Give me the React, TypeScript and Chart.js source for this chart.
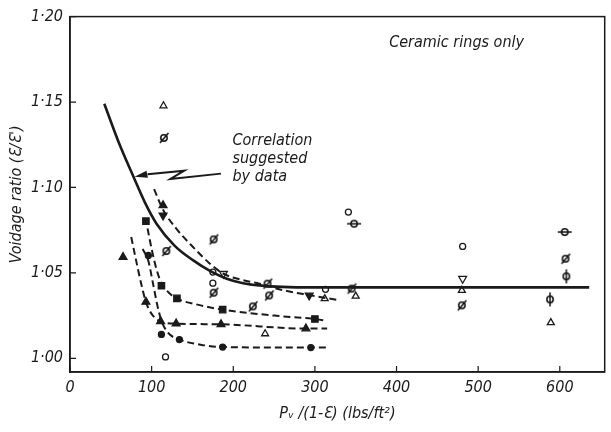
import React, { useEffect, useRef } from "react";
import { Chart, registerables } from "chart.js";

Chart.register(...registerables);

// ---- axis ticks ----
const xTicks = [0, 100, 200, 300, 400, 500, 600];
const yTicks = [1.0, 1.05, 1.1, 1.15, 1.2];

// ---- correlation (solid) curve ----
const corrX = [42, 60, 78, 92, 106, 128, 151, 172, 192, 212, 232, 260, 300, 636];
const corrY = [1.149, 1.126, 1.106, 1.091, 1.0788, 1.066, 1.0573, 1.051, 1.0466, 1.044, 1.0427, 1.0418, 1.0415, 1.0415];

// ---- dashed fitted curves ----
const dashInvX = [103, 114, 130, 151, 170, 188, 210, 232, 260, 293, 330];
const dashInvY = [1.099, 1.087, 1.076, 1.065, 1.056, 1.0495, 1.046, 1.0437, 1.04, 1.037, 1.034];

const dashSqX = [95, 100, 106, 112, 122, 131, 160, 187, 250, 300, 315];
const dashSqY = [1.076, 1.064, 1.052, 1.044, 1.038, 1.035, 1.031, 1.0285, 1.025, 1.023, 1.022];

const dashTriX = [75, 82, 88, 93, 100, 111, 130, 185, 289, 315];
const dashTriY = [1.071, 1.055, 1.042, 1.033, 1.026, 1.0216, 1.0203, 1.0199, 1.0174, 1.0175];

const dashCirX = [89, 96, 102, 107, 112, 120, 134, 160, 187, 295, 315];
const dashCirY = [1.064, 1.057, 1.043, 1.031, 1.022, 1.015, 1.011, 1.008, 1.0066, 1.0063, 1.0063];

// ---- measured points ----
const openCircleX = [175, 175, 117, 313, 341, 481];
const openCircleY = [1.0505, 1.044, 1.0008, 1.0404, 1.0856, 1.0655];

const solidCircleX = [96, 112, 134, 187, 295];
const solidCircleY = [1.0602, 1.014, 1.011, 1.0066, 1.0063];

const openTriX = [114.5, 239, 312, 350, 480, 589];
const openTriY = [1.1478, 1.0144, 1.0349, 1.0364, 1.0398, 1.0209];

const solidTriX = [114, 65, 93, 111, 130, 185, 289];
const solidTriY = [1.0895, 1.0593, 1.033, 1.0216, 1.0203, 1.0199, 1.0174];

const openInvX = [188, 481];
const openInvY = [1.0495, 1.0466];

const solidInvX = [114, 293];
const solidInvY = [1.0836, 1.0368];

const solidSqX = [93, 112, 131, 187, 300];
const solidSqY = [1.0803, 1.0425, 1.0351, 1.0285, 1.023];

const slashX = [115, 176, 118, 176, 242, 244, 224, 345, 480, 607];
const slashY = [1.129, 1.0696, 1.0628, 1.0384, 1.0437, 1.0368, 1.0304, 1.0408, 1.031, 1.0583];

const hBarX = [348, 606];
const hBarY = [1.0788, 1.0739];

const vBarX = [608, 588];
const vBarY = [1.048, 1.0345];

// ---- annotation text ----
const noteText = "Ceramic rings only";
const noteAt = [391, 1.1848];
const corrLines = ["Correlation", "suggested", "by data"];
const corrTextX = 199;
const corrTextY = [1.1275, 1.117, 1.1064];
const arrowX = [185, 123, 140, 95, 79];
const arrowY = [1.1081, 1.105, 1.1098, 1.1078, 1.1062];

const xTitle = "P\u1D65 /(1-\u0190) (lbs/ft\u00B2)";
const yTitle = "Voidage ratio (\u0190/\u0190')";

const INK = "#1a1a1a";
const FONT = "'Liberation Sans Narrow', 'DejaVu Sans Condensed', sans-serif";

const zip = (xs: number[], ys: number[]) => xs.map((x, i) => ({ x, y: ys[i] }));

function makeSymbol(kind: "slash" | "hbar" | "vbar"): HTMLCanvasElement {
  const c = document.createElement("canvas");
  c.width = 16;
  c.height = 16;
  const g = c.getContext("2d")!;
  g.strokeStyle = "#111111";
  g.lineWidth = 1.5;
  g.beginPath();
  g.arc(8, 8, 3.2, 0, Math.PI * 2);
  g.stroke();
  g.beginPath();
  if (kind === "slash") {
    g.moveTo(4, 13);
    g.lineTo(12.5, 3);
  } else if (kind === "hbar") {
    g.moveTo(1, 8);
    g.lineTo(15, 8);
  } else {
    g.moveTo(8, 1);
    g.lineTo(8, 15);
  }
  g.stroke();
  return c;
}

const framePlugin = {
  id: "frame",
  afterDraw(chart: any) {
    const { ctx, chartArea: a, scales } = chart;
    ctx.save();
    ctx.strokeStyle = INK;
    ctx.lineWidth = 1.5;
    ctx.strokeRect(a.left, a.top, a.right - a.left, a.bottom - a.top);
    ctx.lineWidth = 1.2;
    ctx.beginPath();
    xTicks.forEach((v) => {
      const px = scales.x.getPixelForValue(v);
      ctx.moveTo(px, a.bottom);
      ctx.lineTo(px, a.bottom - 6);
    });
    yTicks.forEach((v) => {
      const py = scales.y.getPixelForValue(v);
      ctx.moveTo(a.left, py);
      ctx.lineTo(a.left + 6, py);
    });
    ctx.stroke();
    ctx.restore();
  },
};

const notePlugin = {
  id: "notes",
  afterDatasetsDraw(chart: any) {
    const { ctx, scales } = chart;
    const sx = scales.x, sy = scales.y;
    ctx.save();
    ctx.fillStyle = INK;
    ctx.font = `italic 16px ${FONT}`;
    ctx.textBaseline = "middle";
    ctx.textAlign = "left";
    ctx.fillText(noteText, sx.getPixelForValue(noteAt[0]), sy.getPixelForValue(noteAt[1]));
    corrLines.forEach((t, i) => {
      ctx.fillText(t, sx.getPixelForValue(corrTextX), sy.getPixelForValue(corrTextY[i]));
    });
    // arrow
    ctx.strokeStyle = INK;
    ctx.lineWidth = 2;
    ctx.lineJoin = "miter";
    ctx.beginPath();
    const pts = arrowX.map((x, i) => [sx.getPixelForValue(x), sy.getPixelForValue(arrowY[i])]);
    ctx.moveTo(pts[0][0], pts[0][1]);
    for (let i = 1; i < pts.length - 1; i++) ctx.lineTo(pts[i][0], pts[i][1]);
    ctx.stroke();
    const tail = pts[pts.length - 2];
    const tip = pts[pts.length - 1];
    const ang = Math.atan2(tip[1] - tail[1], tip[0] - tail[0]);
    const L = 13, W = 3.5;
    ctx.beginPath();
    ctx.moveTo(tip[0], tip[1]);
    ctx.lineTo(tip[0] - L * Math.cos(ang) + W * Math.sin(ang), tip[1] - L * Math.sin(ang) - W * Math.cos(ang));
    ctx.lineTo(tip[0] - L * Math.cos(ang) - W * Math.sin(ang), tip[1] - L * Math.sin(ang) + W * Math.cos(ang));
    ctx.closePath();
    ctx.fill();
    ctx.restore();
  },
};

export default function App() {
  const ref = useRef<HTMLCanvasElement | null>(null);

  useEffect(() => {
    if (!ref.current) return;
    const slash = makeSymbol("slash");
    const hbar = makeSymbol("hbar");
    const vbar = makeSymbol("vbar");

    const curve = (xs: number[], ys: number[], dashed: boolean) => ({
      type: "line" as const,
      data: zip(xs, ys),
      showLine: true,
      borderColor: INK,
      borderWidth: dashed ? 2 : 2.6,
      borderDash: dashed ? [7, 4] : [],
      pointRadius: 0,
      cubicInterpolationMode: "monotone" as const,
      fill: false,
    });
    const pts = (xs: number[], ys: number[], style: any, filled: boolean, radius: number, rotation = 0) => ({
      type: "scatter" as const,
      data: zip(xs, ys),
      showLine: false,
      pointStyle: style,
      pointRadius: radius,
      pointRotation: rotation,
      pointBackgroundColor: filled ? INK : "#ffffff",
      pointBorderColor: INK,
      pointBorderWidth: 1.3,
    });

    const chart = new Chart(ref.current, {
      type: "scatter",
      data: {
        datasets: [
          curve(corrX, corrY, false),
          curve(dashInvX, dashInvY, true),
          curve(dashSqX, dashSqY, true),
          curve(dashTriX, dashTriY, true),
          curve(dashCirX, dashCirY, true),
          pts(openCircleX, openCircleY, "circle", false, 3),
          pts(solidCircleX, solidCircleY, "circle", true, 3),
          pts(openTriX, openTriY, "triangle", false, 4),
          pts(solidTriX, solidTriY, "triangle", true, 4.5),
          pts(openInvX, openInvY, "triangle", false, 4.5, 180),
          pts(solidInvX, solidInvY, "triangle", true, 4.5, 180),
          pts(solidSqX, solidSqY, "rect", true, 4.5),
          pts(slashX, slashY, slash, false, 5),
          pts(hBarX, hBarY, hbar, false, 5),
          pts(vBarX, vBarY, vbar, false, 5),
        ] as any,
      },
      options: {
        animation: false,
        responsive: true,
        maintainAspectRatio: false,
        layout: { padding: { left: 0, top: 16, right: 5, bottom: 0 } },
        plugins: {
          legend: { display: false },
          tooltip: { enabled: false },
        },
        scales: {
          x: {
            type: "linear",
            min: 0,
            max: 655,
            afterBuildTicks: (s: any) => {
              s.ticks = xTicks.map((v) => ({ value: v }));
            },
            afterFit: (s: any) => {
              s.height = 60;
            },
            ticks: {
              autoSkip: false,
              maxRotation: 0,
              padding: 6,
              color: INK,
              font: { family: FONT, size: 16, style: "italic" },
              callback: (v: any) => String(v),
            },
            grid: { display: true, drawOnChartArea: false, drawTicks: false },
            border: { display: true, color: INK, width: 1.5 },
            title: {
              display: true,
              text: xTitle,
              color: INK,
              font: { family: FONT, size: 16, style: "italic" },
              padding: { top: 2, bottom: 9 },
            },
          },
          y: {
            type: "linear",
            min: 0.992,
            max: 1.2,
            afterBuildTicks: (s: any) => {
              s.ticks = yTicks.map((v) => ({ value: v }));
            },
            afterFit: (s: any) => {
              s.width = 70;
            },
            ticks: {
              autoSkip: false,
              padding: 7,
              color: INK,
              font: { family: FONT, size: 16, style: "italic" },
              callback: (v: any) => Number(v).toFixed(2).replace(".", "\u00B7"),
            },
            grid: { display: true, drawOnChartArea: false, drawTicks: false },
            border: { display: true, color: INK, width: 1.5 },
            title: {
              display: true,
              text: yTitle,
              color: INK,
              font: { family: FONT, size: 16, style: "italic" },
              padding: { top: 7, bottom: 2 },
            },
          },
        },
      },
      plugins: [framePlugin, notePlugin],
    });
    return () => chart.destroy();
  }, []);

  return (
    <div style={{ position: "absolute", left: 0, top: 0, width: 611, height: 432, background: "#ffffff" }}>
      <canvas ref={ref} />
    </div>
  );
}
